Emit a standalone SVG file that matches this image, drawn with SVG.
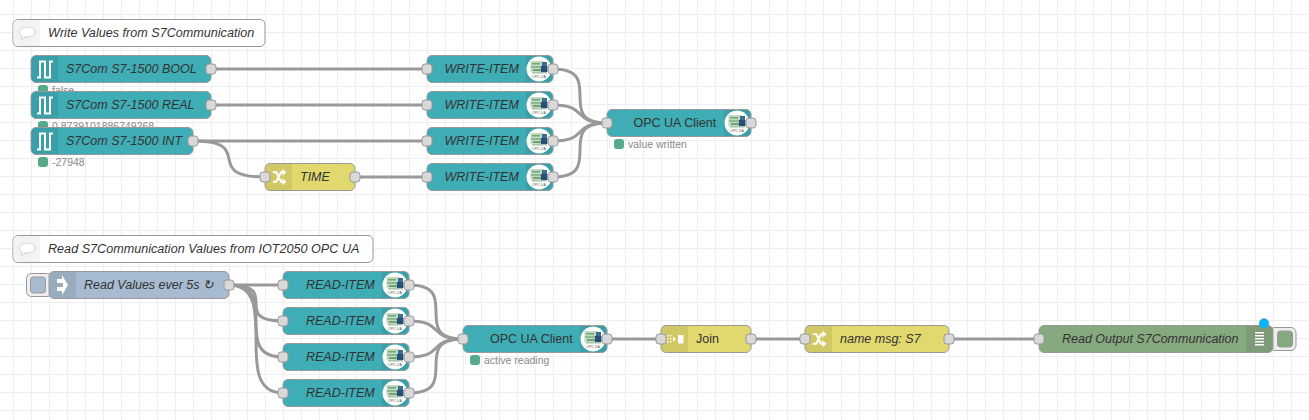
<svg xmlns="http://www.w3.org/2000/svg" width="1309" height="420" viewBox="0 0 1309 420">
<style>
text{font-family:"Liberation Sans",Arial,sans-serif}
.n{stroke:#999;stroke-width:1}
.t{fill:#3FADB5}.y{fill:#E2D96E}.b{fill:#A6BBCF}.g{fill:#87A980}
.sh{fill:#000;fill-opacity:.08}
.l{font-size:12.500px;fill:#333;font-style:italic;dominant-baseline:central}
.r{font-style:normal}
.c{font-size:12.620px}
.p{fill:#d9d9d9;stroke:#999;stroke-width:1}
.s{font-size:10.500px;fill:#888}
.d{fill:#55AA88}
.ic{fill:none;stroke:#fff;stroke-width:2}
.btn{fill:#eee;stroke:#999;stroke-width:1}
</style>
<defs>
<pattern id="grid" width="18" height="18" patternUnits="userSpaceOnUse" x="13" y="14">
<path d="M.5 0V18M0 .5H18" fill="none" stroke="#eee" stroke-width="1"/>
</pattern>
<g id="opc">
<circle r="12.500" fill="#fff"/>
<rect x="-8.500" y="-8" width="13" height="11" fill="#c3d8bd"/>
<rect x="-7" y="-6" width="8" height="1.500" fill="#6fa57a"/>
<rect x="-8" y="-3" width="10" height="2" fill="#8fb892"/>
<rect x="-6" y="0" width="9" height="2" fill="#6fa57a"/>
<rect x="3" y="-7" width="5" height="4" fill="#3a6c94"/>
<rect x="2" y="-3" width="6.500" height="6" fill="#26507a"/>
<rect x="-7" y="3" width="15" height="1.500" fill="#a6c4ae"/>
<text x="0" y="9" text-anchor="middle" style="font-size:3.500px;fill:#555">OPC UA</text>
</g>
<g id="pulse"><path class="ic" d="M-8 8.500H-5V-7.500H0V8.500H5V-7.500H8"/></g>
<g id="shuffle"><g transform="scale(.68)"><path d="M-9 -7H-4L3 7H6M-9 7H-4L3 -7H6" fill="none" stroke="#fff" stroke-width="3"/><path d="M5 -12L11 -7L5 -2ZM5 2L11 7L5 12Z" fill="#fff"/></g></g>
<g id="cmt"><ellipse cx="0" cy="-1" rx="8" ry="5" fill="#fff" stroke="#d5d5d5"/><path d="M-5 3L-6 7L-1 4" fill="#fff" stroke="#d5d5d5"/></g>
</defs>
<rect width="1309" height="420" fill="#fff"/>
<rect width="1309" height="420" fill="url(#grid)"/>

<g id="connectors" fill="none" stroke="#999" stroke-width="3">
<path d="M211 69H427"/>
<path d="M211 105H427"/>
<path d="M193 141H427"/>
<path d="M193 141C258 141 200 177 265 177"/>
<path d="M355 177H427"/>
<path d="M553 69C607 69 553 123 607 123"/>
<path d="M553 105C590 105 570 123 607 123"/>
<path d="M553 141C590 141 570 123 607 123"/>
<path d="M553 177C607 177 553 123 607 123"/>
<path d="M229 285H283"/>
<path d="M229 285C283 285 229 321 283 321"/>
<path d="M229 285C283 285 229 357 283 357"/>
<path d="M229 285C283 285 229 393 283 393"/>
<path d="M409 285C463 285 409 339 463 339"/>
<path d="M409 321C446 321 426 339 463 339"/>
<path d="M409 357C446 357 426 339 463 339"/>
<path d="M409 393C463 393 409 339 463 339"/>
<path d="M607 339H661"/>
<path d="M751 339H805"/>
<path d="M949 339H1039"/>
</g>

<g id="comment1"><rect class="n" x="13" y="19.500" width="252" height="27" rx="5" fill="#fff"/><path d="M18 20H40V46H18Q13.500 46 13.500 41V25Q13.500 20 18 20Z" fill="#f3f3f3"/><use href="#cmt" x="27" y="33"/><text class="l c" x="48" y="33">Write Values from S7Communication</text></g>

<g id="s7bool"><rect class="d" x="38" y="85" width="10" height="10" rx="3"/><text class="s" x="52" y="94">false</text><rect class="n t" x="31" y="55.500" width="180" height="27" rx="5"/><path class="sh" d="M36 56H58V82H36Q31.500 82 31.500 77V61Q31.500 56 36 56Z"/><use href="#pulse" x="45" y="69"/><text class="l" x="66" y="69">S7Com S7-1500 BOOL</text><rect class="p" x="206" y="64" width="10" height="10" rx="3"/></g>

<g id="s7real"><rect class="d" x="38" y="121" width="10" height="10" rx="3"/><text class="s" x="52" y="130">0.8739101886749268</text><rect class="n t" x="31" y="91.500" width="180" height="27" rx="5"/><path class="sh" d="M36 92H58V118H36Q31.500 118 31.500 113V97Q31.500 92 36 92Z"/><use href="#pulse" x="45" y="105"/><text class="l" x="66" y="105">S7Com S7-1500 REAL</text><rect class="p" x="206" y="100" width="10" height="10" rx="3"/></g>

<g id="s7int"><rect class="n t" x="31" y="127.500" width="162" height="27" rx="5"/><path class="sh" d="M36 128H58V154H36Q31.500 154 31.500 149V133Q31.500 128 36 128Z"/><use href="#pulse" x="45" y="141"/><text class="l" x="66" y="141">S7Com S7-1500 INT</text><rect class="p" x="188" y="136" width="10" height="10" rx="3"/><rect class="d" x="38" y="157" width="10" height="10" rx="3"/><text class="s" x="52" y="166">-27948</text></g>

<g id="time"><rect class="n y" x="265" y="163.500" width="90" height="27" rx="5"/><path class="sh" d="M270 164H292V190H270Q265.500 190 265.500 185V169Q265.500 164 270 164Z"/><use href="#shuffle" x="279" y="177"/><text class="l" x="300" y="177">TIME</text><rect class="p" x="260" y="172" width="10" height="10" rx="3"/><rect class="p" x="350" y="172" width="10" height="10" rx="3"/></g>

<g id="write1"><rect class="n t" x="427" y="55.500" width="126" height="27" rx="5"/><text class="l" x="444.500" y="69">WRITE-ITEM</text><path class="sh" d="M526 56H548Q552.500 56 552.500 61V77Q552.500 82 548 82H526Z"/><use href="#opc" x="539" y="69"/><rect class="p" x="422" y="64" width="10" height="10" rx="3"/><rect class="p" x="548" y="64" width="10" height="10" rx="3"/></g>
<g id="write2"><rect class="n t" x="427" y="91.500" width="126" height="27" rx="5"/><text class="l" x="444.500" y="105">WRITE-ITEM</text><path class="sh" d="M526 92H548Q552.500 92 552.500 97V113Q552.500 118 548 118H526Z"/><use href="#opc" x="539" y="105"/><rect class="p" x="422" y="100" width="10" height="10" rx="3"/><rect class="p" x="548" y="100" width="10" height="10" rx="3"/></g>
<g id="write3"><rect class="n t" x="427" y="127.500" width="126" height="27" rx="5"/><text class="l" x="444.500" y="141">WRITE-ITEM</text><path class="sh" d="M526 128H548Q552.500 128 552.500 133V149Q552.500 154 548 154H526Z"/><use href="#opc" x="539" y="141"/><rect class="p" x="422" y="136" width="10" height="10" rx="3"/><rect class="p" x="548" y="136" width="10" height="10" rx="3"/></g>
<g id="write4"><rect class="n t" x="427" y="163.500" width="126" height="27" rx="5"/><text class="l" x="444.500" y="177">WRITE-ITEM</text><path class="sh" d="M526 164H548Q552.500 164 552.500 169V185Q552.500 190 548 190H526Z"/><use href="#opc" x="539" y="177"/><rect class="p" x="422" y="172" width="10" height="10" rx="3"/><rect class="p" x="548" y="172" width="10" height="10" rx="3"/></g>

<g id="opc1"><rect class="n t" x="607" y="109.500" width="144" height="27" rx="5"/><text class="l r" x="633.500" y="123">OPC UA Client</text><path class="sh" d="M724 110H746Q750.500 110 750.500 115V131Q750.500 136 746 136H724Z"/><use href="#opc" x="737" y="123"/><rect class="p" x="602" y="118" width="10" height="10" rx="3"/><rect class="p" x="746" y="118" width="10" height="10" rx="3"/><rect class="d" x="614" y="139" width="10" height="10" rx="3"/><text class="s" x="628" y="148">value written</text></g>

<g id="comment2"><rect class="n" x="13" y="235.500" width="360" height="27" rx="5" fill="#fff"/><path d="M18 236H40V262H18Q13.500 262 13.500 257V241Q13.500 236 18 236Z" fill="#f3f3f3"/><use href="#cmt" x="27" y="249"/><text class="l c" x="48" y="249">Read S7Communication Values from IOT2050 OPC UA</text></g>

<g id="inject"><rect class="btn" x="26.500" y="273.500" width="26" height="23" rx="5"/><rect class="b" x="30.500" y="277" width="15" height="16" rx="3" stroke="#999"/><rect class="n b" x="49" y="271.500" width="180" height="27" rx="5"/><path class="sh" d="M54 272H76V298H54Q49.500 298 49.500 293V277Q49.500 272 54 272Z"/><path d="M57 279H62V275L68 285L62 295V291H57V287H63V283H57Z" fill="#fff"/><text class="l" x="84" y="285">Read Values ever 5s ↻</text><rect class="p" x="224" y="280" width="10" height="10" rx="3"/></g>

<g id="read1"><rect class="n t" x="283" y="271.500" width="126" height="27" rx="5"/><text class="l" x="306" y="285">READ-ITEM</text><path class="sh" d="M382 272H404Q408.500 272 408.500 277V293Q408.500 298 404 298H382Z"/><use href="#opc" x="395" y="285"/><rect class="p" x="278" y="280" width="10" height="10" rx="3"/><rect class="p" x="404" y="280" width="10" height="10" rx="3"/></g>
<g id="read2"><rect class="n t" x="283" y="307.500" width="126" height="27" rx="5"/><text class="l" x="306" y="321">READ-ITEM</text><path class="sh" d="M382 308H404Q408.500 308 408.500 313V329Q408.500 334 404 334H382Z"/><use href="#opc" x="395" y="321"/><rect class="p" x="278" y="316" width="10" height="10" rx="3"/><rect class="p" x="404" y="316" width="10" height="10" rx="3"/></g>
<g id="read3"><rect class="n t" x="283" y="343.500" width="126" height="27" rx="5"/><text class="l" x="306" y="357">READ-ITEM</text><path class="sh" d="M382 344H404Q408.500 344 408.500 349V365Q408.500 370 404 370H382Z"/><use href="#opc" x="395" y="357"/><rect class="p" x="278" y="352" width="10" height="10" rx="3"/><rect class="p" x="404" y="352" width="10" height="10" rx="3"/></g>
<g id="read4"><rect class="n t" x="283" y="379.500" width="126" height="27" rx="5"/><text class="l" x="306" y="393">READ-ITEM</text><path class="sh" d="M382 380H404Q408.500 380 408.500 385V401Q408.500 406 404 406H382Z"/><use href="#opc" x="395" y="393"/><rect class="p" x="278" y="388" width="10" height="10" rx="3"/><rect class="p" x="404" y="388" width="10" height="10" rx="3"/></g>

<g id="opc2"><rect class="n t" x="463" y="325.500" width="144" height="27" rx="5"/><text class="l r" x="490" y="339">OPC UA Client</text><path class="sh" d="M580 326H602Q606.500 326 606.500 331V347Q606.500 352 602 352H580Z"/><use href="#opc" x="593" y="339"/><rect class="p" x="458" y="334" width="10" height="10" rx="3"/><rect class="p" x="602" y="334" width="10" height="10" rx="3"/><rect class="d" x="470" y="355" width="10" height="10" rx="3"/><text class="s" x="484" y="364">active reading</text></g>

<g id="join"><rect class="n y" x="661" y="325.500" width="90" height="27" rx="5"/><path class="sh" d="M666 326H688V352H666Q661.500 352 661.500 347V331Q661.500 326 666 326Z"/><path d="M667 335h1.500v1.500h-1.500zM670 335h1.500v1.500h-1.500zM667 338h1.500v1.500h-1.500zM670 338h1.500v1.500h-1.500zM667 341h1.500v1.500h-1.500zM670 341h1.500v1.500h-1.500zM673 336.500l3 2.500l-3 2.500zM678 335h5.500v8.500h-5.500z" fill="#fff"/><text class="l r" x="696" y="339">Join</text><rect class="p" x="656" y="334" width="10" height="10" rx="3"/><rect class="p" x="746" y="334" width="10" height="10" rx="3"/></g>

<g id="namemsg"><rect class="n y" x="805" y="325.500" width="144" height="27" rx="5"/><path class="sh" d="M810 326H832V352H810Q805.500 352 805.500 347V331Q805.500 326 810 326Z"/><use href="#shuffle" x="819" y="339"/><text class="l" x="840" y="339">name msg: S7</text><rect class="p" x="800" y="334" width="10" height="10" rx="3"/><rect class="p" x="944" y="334" width="10" height="10" rx="3"/></g>

<g id="debug"><rect class="btn" x="1270" y="327.500" width="26" height="23" rx="5"/><rect class="g" x="1277.500" y="331" width="15" height="16" rx="3" stroke="#999"/><rect class="n g" x="1039" y="325.500" width="234" height="27" rx="5"/><path class="sh" d="M1246 326H1268Q1272.500 326 1272.500 331V347Q1272.500 352 1268 352H1246Z"/><path d="M1255 332h9v1.500h-9zM1255 335h9v1.500h-9zM1255 338h9v1.500h-9zM1255 341h9v1.500h-9zM1255 344h9v1.500h-9z" fill="#fff"/><text class="l" x="1062" y="339">Read Output S7Communication</text><rect class="p" x="1034" y="334" width="10" height="10" rx="3"/><circle cx="1264" cy="323.500" r="5" fill="#00b7ff" stroke="#999" stroke-width=".5"/></g>
</svg>
